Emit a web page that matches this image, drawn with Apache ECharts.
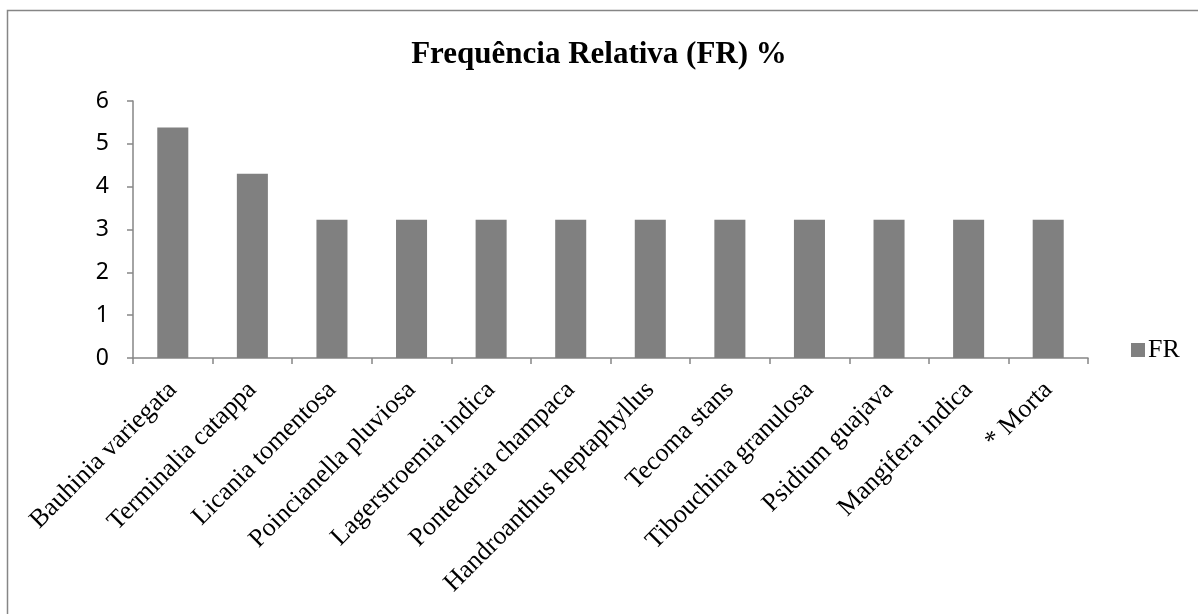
<!DOCTYPE html>
<html>
<head>
<meta charset="utf-8">
<style>
  html, body { margin: 0; padding: 0; background: #ffffff; }
  #chart { width: 1198px; height: 614px; }
</style>
<script src="https://cdn.jsdelivr.net/npm/echarts@6/dist/echarts.min.js"></script>
</head>
<body>
<div id="chart"></div>
<script>
// categorias (espécies) e valores de FR (%)
const species = [
  'Bauhinia variegata', 'Terminalia catappa', 'Licania tomentosa',
  'Poincianella pluviosa', 'Lagerstroemia indica', 'Pontederia champaca',
  'Handroanthus heptaphyllus', 'Tecoma stans', 'Tibouchina granulosa',
  'Psidium guajava', 'Mangifera indica', '* Morta'
];
const frValues = [5.38, 4.30, 3.23, 3.23, 3.23, 3.23, 3.23, 3.23, 3.23, 3.23, 3.23, 3.23];

const chart = echarts.init(document.getElementById('chart'));

const option = {
  animation: false,
  title: {
    text: 'Frequência Relativa (FR) %',
    left: 'center',
    top: 34,
    textStyle: {
      fontFamily: 'Liberation Serif',
      fontWeight: 'bold',
      fontSize: 31,
      color: '#000'
    }
  },
  legend: {
    data: ['FR'],
    orient: 'vertical',
    left: 1126,
    top: 332,
    itemWidth: 14,
    itemHeight: 14,
    itemGap: 6,
    icon: 'rect',
    textStyle: {
      fontFamily: 'Liberation Serif',
      fontSize: 26,
      color: '#000',
      padding: [0, 0, 0, -2]
    }
  },
  grid: {
    left: 133,
    right: 110,
    top: 101,
    bottom: 256
  },
  xAxis: {
    type: 'category',
    data: species,
    axisLine: { lineStyle: { color: '#868686', width: 1.5 } },
    axisTick: { show: true, length: 6, lineStyle: { color: '#868686', width: 1.5 } },
    axisLabel: {
      rotate: 45,
      interval: 0,
      margin: 28,
      fontFamily: 'Liberation Serif',
      fontSize: 26,
      color: '#000'
    }
  },
  yAxis: {
    type: 'value',
    min: 0,
    max: 6,
    interval: 1,
    splitLine: { show: false },
    axisLine: { show: true, lineStyle: { color: '#868686', width: 1.5 } },
    axisTick: { show: true, length: 6, lineStyle: { color: '#868686', width: 1.5 } },
    axisLabel: {
      margin: 24,
      fontFamily: 'Noto Sans',
      fontSize: 23,
      color: '#000'
    }
  },
  series: [
    {
      name: 'FR',
      type: 'bar',
      data: frValues,
      barWidth: '39%',
      itemStyle: { color: '#808080' }
    }
  ],
  graphic: [
    {
      type: 'polyline',
      silent: true,
      shape: { points: [[7.5, 614], [7.5, 10.5], [1198, 10.5]] },
      style: { fill: 'none', stroke: '#868686', lineWidth: 1.5 }
    }
  ]
};

chart.setOption(option);
</script>
</body>
</html>
